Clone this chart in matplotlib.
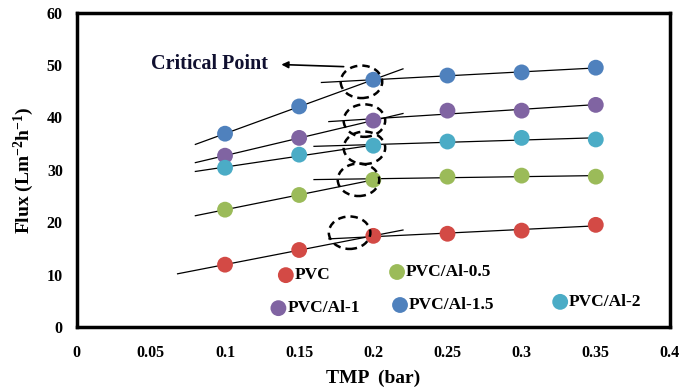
import matplotlib
matplotlib.use('Agg')
import matplotlib.pyplot as plt
from matplotlib.patches import Ellipse
import numpy as np

plt.rcParams['font.family'] = 'Liberation Serif'
plt.rcParams['font.weight'] = 'bold'
plt.rcParams['mathtext.fontset'] = 'custom'
plt.rcParams['mathtext.rm'] = 'Liberation Serif:bold'
plt.rcParams['mathtext.default'] = 'rm'

# Data
tmp = [0.1, 0.15, 0.2, 0.25, 0.3, 0.35]
names = ['PVC', 'PVC/Al-0.5', 'PVC/Al-1', 'PVC/Al-1.5', 'PVC/Al-2']
flux_pvc = [11.9, 14.7, 17.4, 17.8, 18.4, 19.5]
flux_al05 = [22.4, 25.2, 28.1, 28.7, 28.9, 28.7]
flux_al1 = [32.7, 36.1, 39.4, 41.3, 41.3, 42.4]
flux_al15 = [36.9, 42.1, 47.2, 48.0, 48.6, 49.5]
flux_al2 = [30.4, 32.9, 34.6, 35.4, 36.1, 35.8]
colors = ['#D34A45', '#9BBB59', '#8064A2', '#4F81BD', '#4BACC6']

# trend-line extents (x start of low fit, x end of low fit, x start of high fit)
low_x0 = [0.068, 0.08, 0.08, 0.08, 0.08]
low_x1 = [0.22, 0.2, 0.22, 0.22, 0.2]
high_x0 = [0.17, 0.16, 0.17, 0.165, 0.16]
# critical point circles
circ_x = [0.184, 0.19, 0.194, 0.192, 0.194]
circ_y = [18.0, 28.1, 39.4, 46.8, 34.2]

# legend positions (data coords)
leg_x = [0.141, 0.216, 0.136, 0.218, 0.326]
leg_y = [9.9, 10.5, 3.6, 4.2, 4.8]

series = [flux_pvc, flux_al05, flux_al1, flux_al15, flux_al2]

fig = plt.figure(figsize=(6.85, 3.9), dpi=100)
ax = fig.add_axes([0.112, 0.1615, 0.866, 0.806])

x = np.array(tmp)
for i, y in enumerate(series):
    y = np.array(y)
    a1, b1 = np.polyfit(x[:3], y[:3], 1)
    a2, b2 = np.polyfit(x[2:], y[2:], 1)
    xl = np.array([low_x0[i], low_x1[i]])
    xh = np.array([high_x0[i], 0.35])
    ax.plot(xl, a1 * xl + b1, color='black', lw=0.9, zorder=2)
    ax.plot(xh, a2 * xh + b2, color='black', lw=0.9, zorder=2)
    ax.scatter(x, y, s=130, color=colors[i], edgecolors='none', zorder=3)
    ax.add_patch(Ellipse((circ_x[i], circ_y[i]), 0.028, 6.2, fill=False,
                         ls=(0, (3, 2)), lw=1.8, color='black', zorder=4))
    ax.scatter([leg_x[i]], [leg_y[i]], s=130, color=colors[i], edgecolors='none')
    ax.text(leg_x[i] + 0.006, leg_y[i], names[i], fontsize=12.5, fontweight='bold',
            va='center', ha='left')

ax.annotate('', xy=(0.138, 50.1), xytext=(0.18, 49.7),
            arrowprops=dict(arrowstyle='-|>', color='black', lw=1.2,
                            shrinkA=0, shrinkB=0))
ax.text(0.05, 50.2, 'Critical Point', fontsize=14.5, fontweight='bold',
        va='center', ha='left', color='#101030')

ax.set_xlim(0, 0.4)
ax.set_ylim(0, 60)
ax.set_xticks([0, 0.05, 0.1, 0.15, 0.2, 0.25, 0.3, 0.35, 0.4])
ax.set_xticklabels(['0', '0.05', '0.1', '0.15', '0.2', '0.25', '0.3', '0.35', '0.4'])
ax.set_yticks(range(0, 61, 10))
ax.tick_params(axis='x', length=0, labelsize=11.5, pad=13)
ax.tick_params(axis='y', length=0, labelsize=11.5, pad=10)
for lab in ax.get_xticklabels() + ax.get_yticklabels():
    lab.set_fontweight('bold')
for sp in ax.spines.values():
    sp.set_linewidth(2.5)
ax.set_xlabel('TMP  (bar)', fontsize=14, fontweight='bold', labelpad=6)
ax.set_ylabel(r'Flux (Lm$^{-2}$h$^{-1}$)', fontsize=14, fontweight='bold', labelpad=8)

fig.savefig('out.png', dpi=100)
